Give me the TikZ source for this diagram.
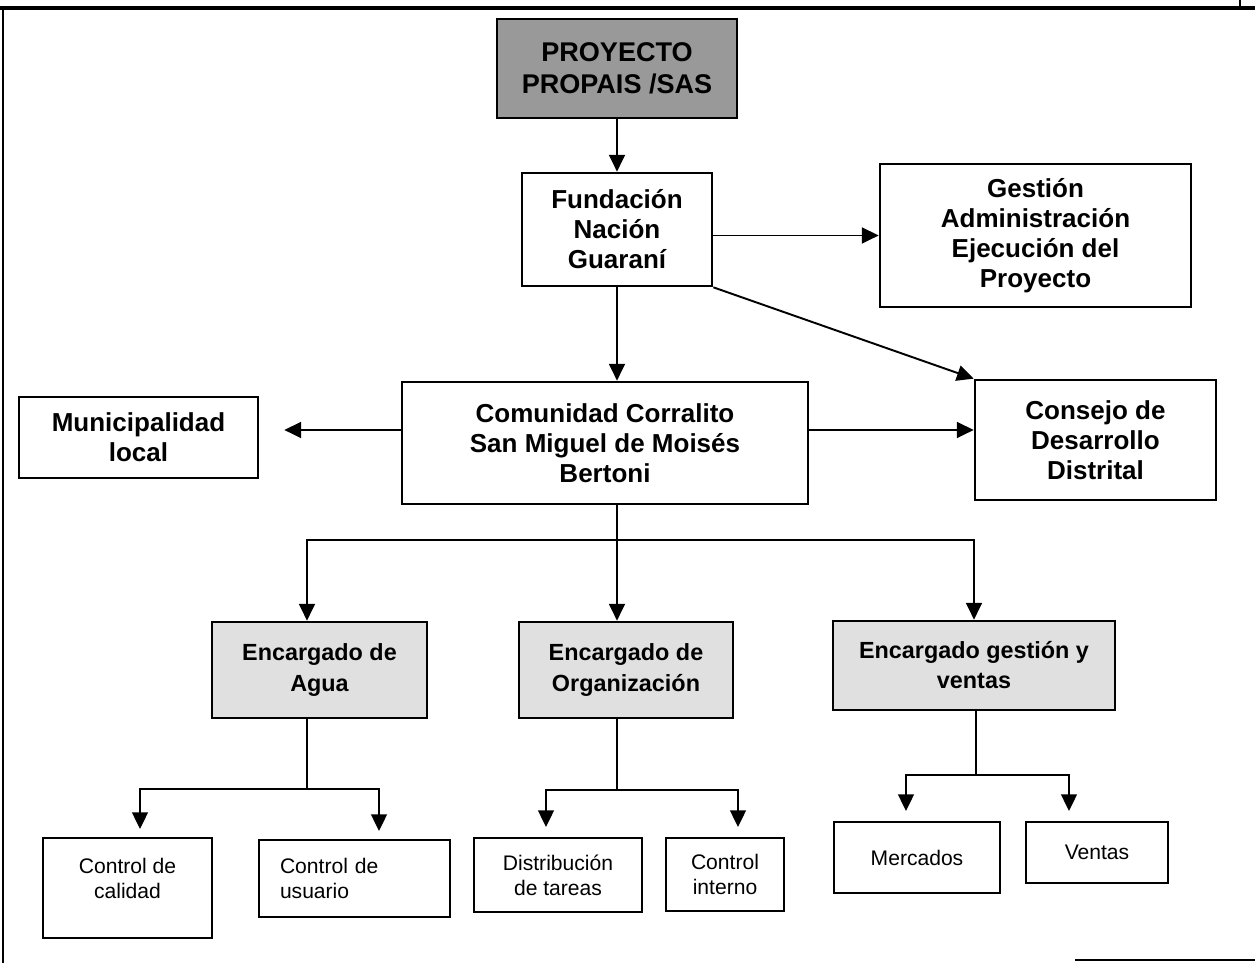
\documentclass[tikz,border=0pt]{standalone}
\usepackage{fontspec}
\setmainfont{Liberation Sans}
\usetikzlibrary{arrows.meta}

\newcommand{\boldlabel}{\fontsize{14.8}{17.1}\selectfont\bfseries}
\newcommand{\titlelabel}{\fontsize{15.4}{18.2}\selectfont\bfseries}
\newcommand{\enclabel}{\fontsize{13.3}{17.1}\selectfont\bfseries}
\newcommand{\plainlabel}{\fontsize{12}{14.2}\selectfont}

\tikzset{
  box/.style={draw, line width=1.5pt, inner sep=0pt, align=center, font=\boldlabel},
  encbox/.style={box, fill=black!12, font=\enclabel},
  leaf/.style={draw, line width=1.1pt, inner sep=0pt, align=center, font=\plainlabel},
  arr/.style={-{Triangle[length=9.5pt,width=9pt]}, line width=1.1pt},
  link/.style={line width=1.1pt}
}

\begin{document}
\begin{tikzpicture}
\useasboundingbox (0,0) rectangle (25.1,19.26);

% page frame
\draw[line width=1.8pt] (0,19.10) -- (25.1,19.10);
\draw[line width=0.9pt] (0.06,19.10) -- (0.06,0);
\draw[line width=0.9pt] (24.8,19.26) -- (24.8,19.10);
\draw[line width=1.2pt] (21.5,0.06) -- (25.1,0.06);

% upper part
\node[box, fill=black!40, font=\titlelabel, minimum width=4.8cm, minimum height=1.98cm] (proyecto) at (12.34,17.89) {PROYECTO\\PROPAIS /SAS};
\node[box, minimum width=3.8cm, minimum height=2.26cm] (fundacion) at (12.34,14.67) {Fundación\\Nación\\Guaraní};
\node[box, minimum width=6.22cm, minimum height=2.86cm] (gestion) at (20.71,14.55) {Gestión\\Administración\\Ejecución del\\Proyecto};
\node[box, minimum width=8.12cm, minimum height=2.44cm] (comunidad) at (12.10,10.40) {Comunidad Corralito\\San Miguel de Moisés\\Bertoni};
\node[box, minimum width=4.78cm, minimum height=1.62cm] (municipalidad) at (2.77,10.51) {Municipalidad\\local};
\node[box, minimum width=4.82cm, minimum height=2.40cm] (consejo) at (21.91,10.46) {Consejo de\\Desarrollo\\Distrital};

\draw[arr] (proyecto) -- (fundacion);
\draw[arr] (gestion.west -| fundacion.east) -- (gestion.west);
\draw[arr] (fundacion.south) -- (fundacion.south |- comunidad.north);
\draw[arr] (fundacion.south east) -- (consejo.north west);
\draw[arr] ([yshift=0.26cm]comunidad.east) -- ([yshift=0.26cm]comunidad.east -| consejo.west);
\draw[arr, shorten >=0.5cm] ([yshift=0.26cm]comunidad.west) -- ([yshift=0.26cm]comunidad.west -| municipalidad.east);

% encargados
\node[encbox, minimum width=4.30cm, minimum height=1.92cm] (agua) at (6.39,5.86) {Encargado de\\Agua};
\node[encbox, minimum width=4.28cm, minimum height=1.92cm] (organizacion) at (12.52,5.86) {Encargado de\\Organización};
\node[encbox, minimum width=5.64cm, minimum height=1.78cm] (gventas) at (19.48,5.95) {Encargado gestión y\\ventas};

\coordinate (split) at (12.34,8.46);
\draw[link] (comunidad.south -| split) -- (split);
\draw[arr] (split) -| ([xshift=-0.25cm]agua.north);
\draw[arr] (split) -- (split |- organizacion.north);
\draw[arr] (split) -| (gventas.north);

% tareas
\node[leaf, minimum width=3.38cm, minimum height=2cm] (calidad) at (2.55,1.50) {};
\node[font=\plainlabel, align=center, below=0.3cm] (calidadtxt) at (calidad.north) {Control de\\calidad};
\node[leaf, align=left, text width=2.98cm, inner xsep=0.42cm, minimum height=1.54cm] (usuario) at (7.09,1.69) {Control de\\usuario};
\node[leaf, minimum width=3.36cm, minimum height=1.48cm] (distribucion) at (11.16,1.76) {Distribución\\de tareas};
\node[leaf, minimum width=2.36cm, minimum height=1.46cm] (interno) at (14.50,1.77) {Control\\interno};
\node[leaf, minimum width=3.32cm, minimum height=1.42cm] (mercados) at (18.34,2.11) {Mercados};
\node[leaf, minimum width=2.84cm, minimum height=1.22cm] (ventas) at (21.94,2.21) {Ventas};

\coordinate (aguasplit) at (6.14,3.48);
\coordinate (orgsplit) at (12.34,3.46);
\coordinate (ventsplit) at (19.52,3.76);

\draw[link] (agua.south -| aguasplit) -- (aguasplit);
\draw[arr, shorten >=0.16cm] (aguasplit) -| ([xshift=0.25cm]calidad.north);
\draw[arr, shorten >=0.16cm] (aguasplit) -| ([xshift=0.49cm]usuario.north);

\draw[link] (organizacion.south -| orgsplit) -- (orgsplit);
\draw[arr, shorten >=0.2cm] (orgsplit) -| ([xshift=-0.24cm]distribucion.north);
\draw[arr, shorten >=0.2cm] (orgsplit) -| ([xshift=0.26cm]interno.north);

\draw[link] (gventas.south -| ventsplit) -- (ventsplit);
\draw[arr, shorten >=0.2cm] (ventsplit) -| ([xshift=-0.22cm]mercados.north);
\draw[arr, shorten >=0.2cm] (ventsplit) -| ([xshift=-0.56cm]ventas.north);
\end{tikzpicture}
\end{document}
